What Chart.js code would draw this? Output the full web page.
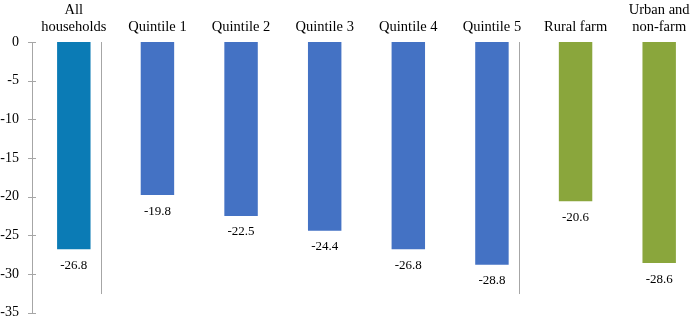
<!DOCTYPE html>
<html>
<head>
<meta charset="utf-8">
<script src="https://cdn.jsdelivr.net/npm/chart.js@4"></script>
<style>
  html, body { margin: 0; padding: 0; overflow: hidden; background: #fff; }
  canvas { position: absolute; left: 0; top: 0; }
</style>
</head>
<body>
<canvas id="chart" width="702" height="334"></canvas>
<script>
const categories = [
    ['All', 'households'],
    'Quintile 1', 'Quintile 2', 'Quintile 3', 'Quintile 4', 'Quintile 5',
    'Rural farm',
    ['Urban and', 'non-farm']
];
const values = [-26.8, -19.8, -22.5, -24.4, -26.8, -28.8, -20.6, -28.6];
const barColors = ['#0b7bb5', '#4472c4', '#4472c4', '#4472c4', '#4472c4', '#4472c4', '#8aa63c', '#8aa63c'];
// separators sit just after these category indexes
const separatorsAfter = [0, 5];

const serif = "'Liberation Serif', 'Times New Roman', serif";

// labels under each bar
const valueLabels = {
    id: 'valueLabels',
    afterDatasetsDraw(chart) {
        const ctx = chart.ctx;
        const meta = chart.getDatasetMeta(0);
        ctx.save();
        ctx.font = '13px ' + serif;
        ctx.fillStyle = '#000';
        ctx.textAlign = 'center';
        ctx.textBaseline = 'middle';
        meta.data.forEach((bar, i) => {
            ctx.fillText(values[i].toFixed(1), bar.x, bar.y + 16);
        });
        ctx.restore();
    }
};

// tick marks crossing the y axis, and the group separators
const extras = {
    id: 'extras',
    afterDraw(chart) {
        const ctx = chart.ctx;
        const x = chart.scales.x, y = chart.scales.y;
        ctx.save();
        ctx.strokeStyle = '#a6a6a6';
        ctx.lineWidth = 1;
        y.ticks.forEach(t => {
            const py = Math.round(y.getPixelForValue(t.value)) + 0.5;
            ctx.beginPath();
            ctx.moveTo(x.left - 4, py);
            ctx.lineTo(x.left + 4, py);
            ctx.stroke();
        });
        separatorsAfter.forEach(i => {
            const px = Math.round(x.getPixelForValue(i + 0.32)) + 0.5;
            ctx.beginPath();
            ctx.moveTo(px, y.getPixelForValue(0));
            ctx.lineTo(px, y.getPixelForValue(-32.6));
            ctx.stroke();
        });
        ctx.restore();
    }
};

new Chart(document.getElementById('chart'), {
    type: 'bar',
    data: {
        labels: categories,
        datasets: [{
            data: values,
            backgroundColor: barColors,
            barPercentage: 0.4,
            categoryPercentage: 1
        }]
    },
    options: {
        responsive: false,
        animation: false,
        layout: { padding: { top: 0, right: 1, bottom: 0, left: 0 } },
        plugins: {
            legend: { display: false },
            tooltip: { enabled: false }
        },
        scales: {
            x: {
                position: 'top',
                grid: { display: false, drawTicks: false },
                border: { display: false },
                ticks: {
                    color: '#000',
                    font: { family: serif, size: 14.5, lineHeight: 1.12 },
                    padding: 7,
                    maxRotation: 0,
                    autoSkip: false
                },
                afterFit(scale) { scale.height = 42; }
            },
            y: {
                min: -35,
                max: 0,
                grid: { display: false, drawTicks: false },
                border: { display: true, color: '#a6a6a6', width: 1 },
                ticks: {
                    stepSize: 5,
                    color: '#000',
                    font: { family: serif, size: 14 },
                    padding: 13
                },
                afterFit(scale) { scale.width = 32; }
            }
        }
    },
    plugins: [valueLabels, extras]
});
</script>
</body>
</html>
